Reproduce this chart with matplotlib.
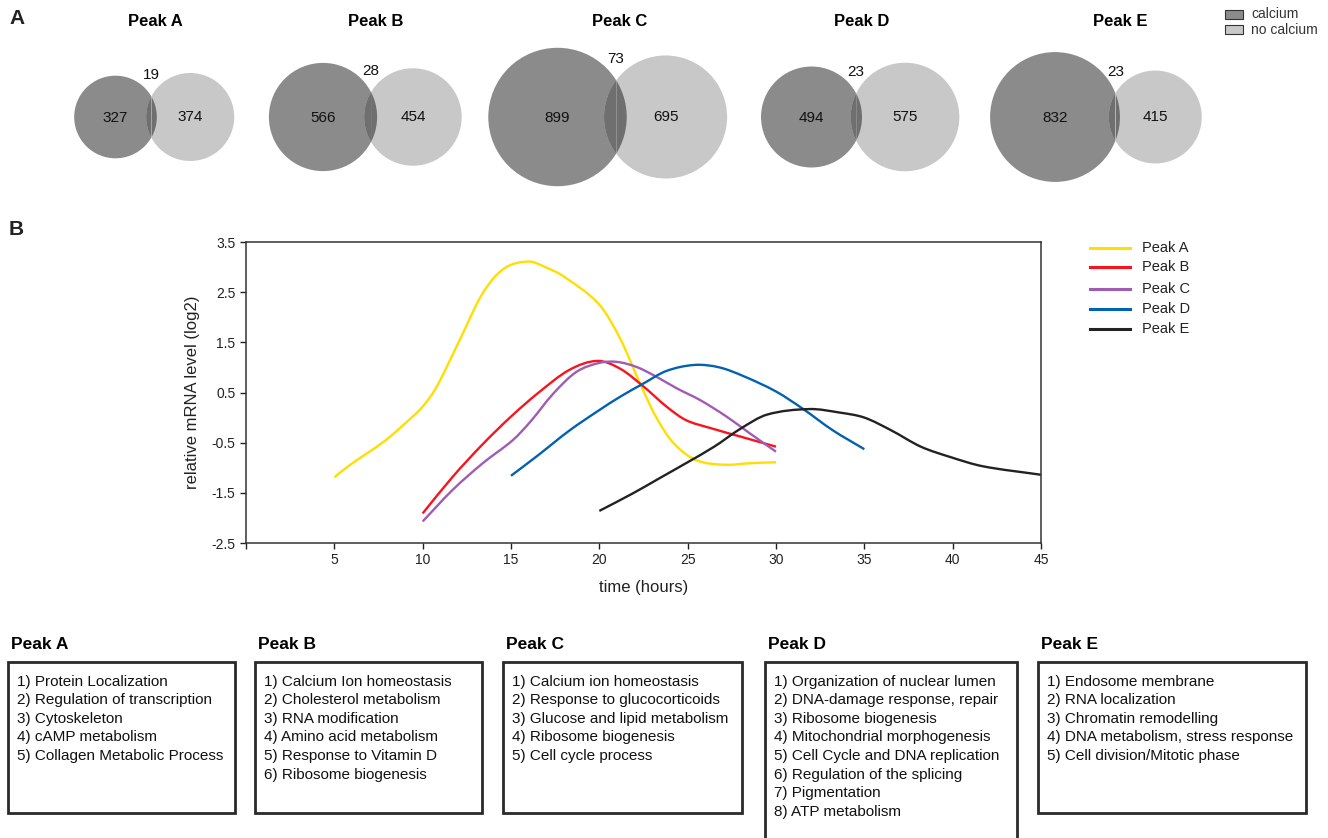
import numpy as np
import matplotlib.pyplot as plt
from matplotlib.patches import Circle, Rectangle, Polygon, PathPatch
from matplotlib.path import Path

plt.rcParams['font.family'] = ['Liberation Sans', 'DejaVu Sans']
plt.rcParams['axes.unicode_minus'] = False

# ---- data ----
peaks = ['Peak A', 'Peak B', 'Peak C', 'Peak D', 'Peak E']
calcium_only = [327, 566, 899, 494, 832]
no_calcium_only = [374, 454, 695, 575, 415]
shared = [19, 28, 73, 23, 23]

time_a = [5, 5.9, 7.8, 8.9, 10, 10.8, 12.1, 13.4, 14.6, 16, 17, 18, 20, 21.2, 22.3, 23.2, 24.2, 25.5, 27.1, 28.5, 30]
level_a = [-1.19, -0.94, -0.48, -0.15, 0.22, 0.62, 1.55, 2.48, 2.97, 3.11, 2.99, 2.81, 2.25, 1.56, 0.68, 0.02, -0.51, -0.85, -0.94, -0.91, -0.89]
time_b = [10, 11.7, 13.4, 15, 16.5, 18.3, 19.9, 21.2, 22.5, 23.8, 24.9, 26.3, 28, 30]
level_b = [-1.91, -1.18, -0.53, 0.02, 0.48, 0.95, 1.13, 0.97, 0.62, 0.22, -0.05, -0.21, -0.38, -0.58]
time_c = [10, 11.7, 13.4, 15.1, 16.1, 17.4, 18.7, 20, 21, 22.1, 23.2, 24.4, 25.7, 27.2, 28.5, 30]
level_c = [-2.07, -1.44, -0.91, -0.45, -0.08, 0.48, 0.91, 1.09, 1.11, 1.01, 0.82, 0.58, 0.35, 0.02, -0.31, -0.68]
time_d = [15, 16.5, 18.3, 20, 21.2, 22.5, 23.8, 25.4, 26.8, 28.2, 30, 31.5, 33.2, 35]
level_d = [-1.16, -0.76, -0.26, 0.15, 0.42, 0.68, 0.93, 1.05, 1.0, 0.82, 0.52, 0.18, -0.25, -0.63]
time_e = [20, 21.9, 23.4, 24.9, 26.5, 28, 29.5, 31.9, 33.6, 35, 36.5, 38.2, 39.9, 41.7, 45]
level_e = [-1.86, -1.51, -1.21, -0.91, -0.58, -0.22, 0.06, 0.17, 0.10, 0.0, -0.25, -0.58, -0.79, -0.97, -1.14]

x_ticks = [0, 5, 10, 15, 20, 25, 30, 35, 40, 45]
x_tick_labels = ['', '5', '10', '15', '20', '25', '30', '35', '40', '45']
y_ticks = [-2.5, -1.5, -0.5, 0.5, 1.5, 2.5, 3.5]
y_tick_labels = ['-2.5', '-1.5', '-0.5', '0.5', '1.5', '2.5', '3.5']

go_terms = [
    ['Protein Localization', 'Regulation of transcription', 'Cytoskeleton',
     'cAMP metabolism', 'Collagen Metabolic Process'],
    ['Calcium Ion homeostasis', 'Cholesterol metabolism', 'RNA modification',
     'Amino acid metabolism', 'Response to Vitamin D', 'Ribosome biogenesis'],
    ['Calcium ion homeostasis', 'Response to glucocorticoids', 'Glucose and lipid metabolism',
     'Ribosome biogenesis', 'Cell cycle process'],
    ['Organization of nuclear lumen', 'DNA-damage response, repair', 'Ribosome biogenesis',
     'Mitochondrial morphogenesis', 'Cell Cycle and DNA replication', 'Regulation of the splicing',
     'Pigmentation', 'ATP metabolism'],
    ['Endosome membrane', 'RNA localization', 'Chromatin remodelling',
     'DNA metabolism, stress response', 'Cell division/Mitotic phase'],
]

line_colors = ['#ffde00', '#f7141e', '#a05cb4', '#0062b0', '#222222']
dark_grey, light_grey, overlap_grey = '#8b8b8b', '#c8c8c8', '#6f6f6f'

W, H = 1328, 838
fig = plt.figure(figsize=(W / 100, H / 100), dpi=100)

# overlay axes in pixel coordinates for venns, legends and boxes
ov = fig.add_axes([0, 0, 1, 1])
ov.set_xlim(0, W)
ov.set_ylim(H, 0)
ov.axis('off')


def lens_area(r1, r2, d):
    a1 = r1**2 * np.arccos((d**2 + r1**2 - r2**2) / (2 * d * r1))
    a2 = r2**2 * np.arccos((d**2 + r2**2 - r1**2) / (2 * d * r2))
    k = 0.5 * np.sqrt((-d + r1 + r2) * (d + r1 - r2) * (d - r1 + r2) * (d + r1 + r2))
    return a1 + a2 - k


def smooth_path(x, y):
    # hermite bezier through the points (like a smoothed excel line)
    x = np.asarray(x, float)
    y = np.asarray(y, float)
    n = len(x)
    m = np.zeros(n)
    m[0] = (y[1] - y[0]) / (x[1] - x[0])
    m[-1] = (y[-1] - y[-2]) / (x[-1] - x[-2])
    m[1:-1] = (y[2:] - y[:-2]) / (x[2:] - x[:-2])
    verts = [(x[0], y[0])]
    codes = [Path.MOVETO]
    for i in range(n - 1):
        h = x[i + 1] - x[i]
        verts += [(x[i] + h / 3, y[i] + m[i] * h / 3),
                  (x[i + 1] - h / 3, y[i + 1] - m[i + 1] * h / 3),
                  (x[i + 1], y[i + 1])]
        codes += [Path.CURVE4] * 3
    return Path(verts, codes)


# panel A - area proportional venns
scale = 2.22  # px per sqrt(count)
venn_x = [115.5, 323, 557.5, 811.5, 1055]
venn_y = 117
title_x = [155, 376, 619.5, 861.5, 1120]
for i in range(5):
    r1 = scale * np.sqrt(calcium_only[i] + shared[i])
    r2 = scale * np.sqrt(no_calcium_only[i] + shared[i])
    target = np.pi * scale**2 * shared[i]
    lo, hi = abs(r1 - r2) + 1e-6, r1 + r2 - 1e-6
    for _ in range(60):
        mid = (lo + hi) / 2
        if lens_area(r1, r2, mid) > target:
            lo = mid
        else:
            hi = mid
    d = (lo + hi) / 2
    cx1 = venn_x[i]
    cx2 = cx1 + d
    ov.add_patch(Circle((cx1, venn_y), r1, fc=dark_grey, ec='none'))
    ov.add_patch(Circle((cx2, venn_y), r2, fc=light_grey, ec='none'))
    xi = (d**2 + r1**2 - r2**2) / (2 * d)
    hh = np.sqrt(r1**2 - xi**2)
    t1 = np.arctan2(hh, xi)
    t2 = np.arctan2(hh, d - xi)
    a1 = np.linspace(-t1, t1, 60)
    a2 = np.linspace(np.pi - t2, np.pi + t2, 60)
    pts1 = np.column_stack([cx1 + r1 * np.cos(a1), venn_y + r1 * np.sin(a1)])
    pts2 = np.column_stack([cx2 + r2 * np.cos(a2), venn_y - r2 * np.sin(a2)])
    ov.add_patch(Polygon(np.vstack([pts1, pts2]), closed=True, fc=overlap_grey, ec='none'))
    ov.text(cx1, venn_y + 1, str(calcium_only[i]), ha='center', va='center', fontsize=11, color='#111')
    ov.text(cx2, venn_y, str(no_calcium_only[i]), ha='center', va='center', fontsize=11, color='#111')
    ov.text(cx1 + xi, venn_y - hh - 21, str(shared[i]), ha='center', va='center', fontsize=11, color='#111')
    ov.text(title_x[i], 22, peaks[i], ha='center', va='center', fontsize=12, fontweight='bold')

ov.text(9, 18, 'A', ha='left', va='center', fontsize=15, fontweight='bold', color='#222')
ov.text(9, 229, 'B', ha='left', va='center', fontsize=15, fontweight='bold', color='#222')

# venn legend
for j, (lab, col) in enumerate([('calcium', dark_grey), ('no calcium', light_grey)]):
    y = 10 + j * 15
    ov.add_patch(Rectangle((1225, y), 18, 9, fc=col, ec='#333', lw=0.8))
    ov.text(1251, y + 4.5, lab, ha='left', va='center', fontsize=10, color='#333')

# panel B - time course
ax = fig.add_axes([246 / W, (H - 543) / H, (1041 - 246) / W, (543 - 242) / H])
series = [(time_a, level_a), (time_b, level_b), (time_c, level_c), (time_d, level_d), (time_e, level_e)]
for (t, v), col in zip(series, line_colors):
    ax.add_patch(PathPatch(smooth_path(t, v), fill=False, ec=col, lw=1.7, capstyle='butt'))
ax.set_xlim(0, 45)
ax.set_ylim(-2.5, 3.5)
ax.set_xticks(x_ticks)
ax.set_xticklabels(x_tick_labels)
ax.set_yticks(y_ticks)
ax.set_yticklabels(y_tick_labels)
ax.tick_params(direction='out', length=4, width=1, labelsize=10, colors='#222')
for s in ax.spines.values():
    s.set_color('#333')
    s.set_linewidth(1.1)
ax.set_xlabel('time (hours)', fontsize=12, labelpad=9, color='#222')
ax.set_ylabel('relative mRNA level (log2)', fontsize=12, labelpad=8, color='#222')

# line legend
leg_y = [247.7, 266.7, 289.3, 309.3, 329.3]
for name, col, y in zip(peaks, line_colors, leg_y):
    ov.plot([1090, 1130], [y, y], color=col, lw=2.2)
    ov.text(1142, y, name, ha='left', va='center', fontsize=10.5, color='#222')

# GO term boxes
box_left = [8, 255, 503, 765, 1038]
box_right = [235, 482, 742, 1017, 1306]
box_bottom = [813, 813, 813, 860, 813]
for i in range(5):
    ov.text(box_left[i] + 3, 644, peaks[i], ha='left', va='center', fontsize=12.5, fontweight='bold')
    ov.add_patch(Rectangle((box_left[i], 662), box_right[i] - box_left[i], box_bottom[i] - 662,
                           fc='white', ec='#2a2a2a', lw=2))
    for k, term in enumerate(go_terms[i]):
        ov.text(box_left[i] + 9, 681.5 + k * 18.6, f'{k + 1}) {term}', ha='left', va='center',
                fontsize=11, color='#111')

fig.savefig('out.png', dpi=100)
